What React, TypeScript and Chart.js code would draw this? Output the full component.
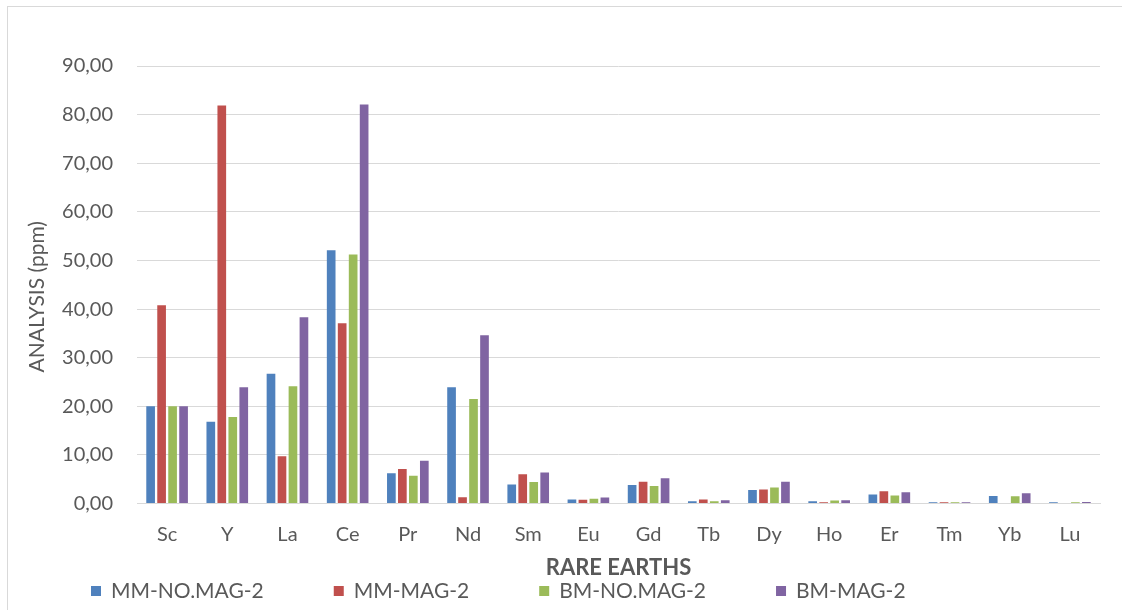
import React, { useEffect, useRef } from "react";
import { Chart, registerables } from "chart.js";

Chart.register(...registerables);

const categories = ["Sc", "Y", "La", "Ce", "Pr", "Nd", "Sm", "Eu", "Gd", "Tb", "Dy", "Ho", "Er", "Tm", "Yb", "Lu"];
const seriesNames = ["MM-NO.MAG-2", "MM-MAG-2", "BM-NO.MAG-2", "BM-MAG-2"];
const seriesColors = ["#4F81BD", "#C0504D", "#9BBB59", "#8064A2"];

const mmNoMag = [20.0, 16.8, 26.7, 52.1, 6.2, 23.9, 3.9, 0.83, 3.8, 0.48, 2.76, 0.48, 1.86, 0.28, 1.52, 0.25];
const mmMag = [40.8, 81.9, 9.7, 37.1, 7.1, 1.3, 6.0, 0.76, 4.5, 0.83, 2.9, 0.28, 2.5, 0.28, 0, 0];
const bmNoMag = [20.0, 17.8, 24.1, 51.2, 5.7, 21.5, 4.4, 0.97, 3.6, 0.48, 3.3, 0.62, 1.66, 0.25, 1.5, 0.25];
const bmMag = [20.0, 23.9, 38.3, 82.1, 8.8, 34.6, 6.4, 1.24, 5.2, 0.69, 4.5, 0.69, 2.34, 0.28, 2.1, 0.3];

const yMin = 0;
const yMax = 90;
const yStep = 10;

const xTitle = "RARE EARTHS";
const yTitle = "ANALYSIS (ppm)";

const TEXT = "#595959";
const GRID = "#d9d9d9";
const FONT = "Lato, 'Open Sans', sans-serif";

const legendPlugin = {
  id: "excelLegend",
  afterDraw(chart: any) {
    const ctx = chart.ctx;
    ctx.save();
    ctx.font = `21px ${FONT}`;
    ctx.textBaseline = "middle";
    ctx.textAlign = "left";
    let x = 91;
    const cy = 591;
    chart.data.datasets.forEach((ds: any) => {
      ctx.fillStyle = ds.backgroundColor;
      ctx.fillRect(x, cy - 5, 10, 10);
      ctx.fillStyle = TEXT;
      ctx.fillText(ds.label, x + 20, cy);
      x += 20 + ctx.measureText(ds.label).width + 70;
    });
    ctx.restore();
  },
};

const yTitlePlugin = {
  id: "excelYTitle",
  afterDraw(chart: any) {
    const ctx = chart.ctx;
    const area = chart.chartArea;
    ctx.save();
    ctx.font = `21px ${FONT}`;
    ctx.fillStyle = TEXT;
    ctx.textAlign = "center";
    ctx.textBaseline = "middle";
    ctx.translate(37, (area.top + area.bottom) / 2 + 12);
    ctx.rotate(-Math.PI / 2);
    ctx.fillText(yTitle, 0, 0);
    ctx.restore();
  },
};

export default function App() {
  const canvasRef = useRef<HTMLCanvasElement | null>(null);

  useEffect(() => {
    const canvas = canvasRef.current;
    if (!canvas) return;
    const allSeries = [mmNoMag, mmMag, bmNoMag, bmMag];
    const chart = new Chart(canvas, {
      type: "bar",
      data: {
        labels: categories,
        datasets: allSeries.map((d, i) => ({
          label: seriesNames[i],
          data: d,
          backgroundColor: seriesColors[i],
          borderWidth: 0,
          categoryPercentage: 0.73,
          barPercentage: 0.79,
        })),
      },
      options: {
        responsive: false,
        animation: false,
        devicePixelRatio: 1,
        layout: { padding: { left: 24, right: 22, top: 66, bottom: 31.5 } },
        plugins: {
          legend: { display: false },
          tooltip: { enabled: false },
        },
        scales: {
          x: {
            grid: { display: false },
            border: { display: true, color: GRID, width: 1 },
            ticks: { color: TEXT, font: { family: FONT, size: 20 }, padding: 11.5, maxRotation: 0 },
            title: {
              display: true,
              text: xTitle,
              color: TEXT,
              font: { family: FONT, size: 22, weight: "bold" },
              padding: { top: 0, bottom: -3 },
            },
            afterFit: (scale: any) => {
              scale.height = 75;
            },
          },
          y: {
            min: yMin,
            max: yMax,
            grid: { color: GRID, lineWidth: 1, drawTicks: false },
            border: { display: false },
            ticks: {
              stepSize: yStep,
              color: TEXT,
              font: { family: FONT, size: 20 },
              padding: 24,
              callback: (v: any) => Number(v).toFixed(2).replace(".", ","),
            },
            title: { display: false, text: yTitle },
            afterFit: (scale: any) => {
              scale.width = 113;
            },
          },
        },
      },
      plugins: [legendPlugin, yTitlePlugin],
    });
    return () => chart.destroy();
  }, []);

  return (
    <div style={{ position: "fixed", left: 0, top: 0, width: 1122, height: 610, background: "#fff", overflow: "hidden" }}>
      <canvas ref={canvasRef} width={1122} height={610} style={{ display: "block" }} />
      <div
        style={{
          position: "absolute",
          left: 7,
          top: 6,
          width: 1200,
          height: 700,
          borderLeft: `1px solid ${GRID}`,
          borderTop: `1px solid ${GRID}`,
          pointerEvents: "none",
        }}
      />
    </div>
  );
}
